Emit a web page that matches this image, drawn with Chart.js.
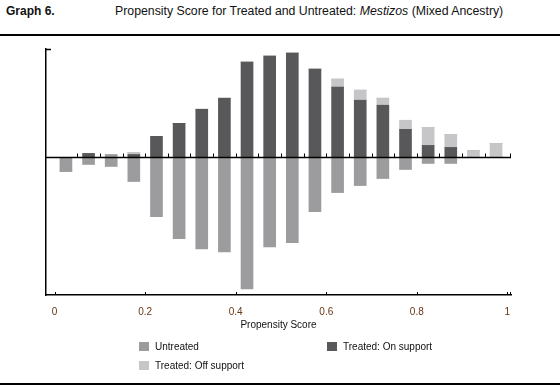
<!DOCTYPE html>
<html>
<head>
<meta charset="utf-8">
<script src="https://cdn.jsdelivr.net/npm/chart.js@4"></script>
<style>
  body { margin: 0; background: #fff; }
  #wrap { position: relative; width: 560px; height: 387px; font-family: "Liberation Sans", Arial, sans-serif; }
  #chartBox { position: absolute; left: 0; top: 0; width: 560px; height: 387px; }
  .hdr { position: absolute; top: 4px; font-size: 12px; color: #111; white-space: nowrap; }
  .rule { position: absolute; left: 0; width: 560px; height: 1.5px; background: #000; }
  .leg { position: absolute; font-size: 10px; color: #111; white-space: nowrap; }
  .leg i { position: absolute; left: 0; top: 1px; width: 10px; height: 9px; }
  .leg span { margin-left: 16px; }
</style>
</head>
<body>
<div id="wrap">
  <div class="hdr" style="left:6px; font-weight:bold;">Graph 6.</div>
  <div class="hdr" style="left:115px; font-size:12.3px;">Propensity Score for Treated and Untreated: <em>Mestizos</em> (Mixed Ancestry)</div>
  <div class="rule" style="top:34px;"></div>
  <div id="chartBox"><canvas id="chart"></canvas></div>
  <div class="leg" style="left:139px; top:341px;"><i style="background:#9c9c9e"></i><span>Untreated</span></div>
  <div class="leg" style="left:327px; top:341px;"><i style="background:#58585a"></i><span>Treated: On support</span></div>
  <div class="leg" style="left:139px; top:360px;"><i style="background:#c6c6c8"></i><span>Treated: Off support</span></div>
  <div class="rule" style="top:383px;"></div>
</div>
<script>
// bin centres (width 0.05)
const bins = [0.025, 0.075, 0.125, 0.175, 0.225, 0.275, 0.325, 0.375, 0.425, 0.475,
              0.525, 0.575, 0.625, 0.675, 0.725, 0.775, 0.825, 0.875, 0.925, 0.975];
const onSupport  = [0, 4, 0, 3, 21, 34, 48, 59, 95, 101, 104, 88, 70, 57, 52, 28, 12, 10, 0, 0];
const offSupport = [0, 0, 0, 2, 0, 0, 0, 0, 0, 0, 0, 0, 8, 10, 7, 9, 18, 13, 7, 14];
const untreated  = [-14, -7, -9, -24, -59, -81, -91, -94, -131, -89, -85, -54, -35, -28, -21, -12, -6, -6, 0, 0];
// small untreated-coloured piece above zero in the 0.10-0.15 bin
const untreatedUp = [0, 0, 3, 0, 0, 0, 0, 0, 0, 0, 0, 0, 0, 0, 0, 0, 0, 0, 0, 0];
const xTicks = [0, 0.2, 0.4, 0.6, 0.8, 1];

const toPts = (arr) => arr.map((v, i) => ({ x: bins[i], y: v }));

// zero line, its small ticks and the inward axis ticks
const axisMarks = {
  id: 'axisMarks',
  afterDatasetsDraw(chart) {
    const { ctx, chartArea, scales } = chart;
    const x = scales.x, y = scales.y;
    const y0 = Math.round(y.getPixelForValue(0)) + 0.5;
    ctx.save();
    ctx.strokeStyle = '#000';
    ctx.lineWidth = 1.5;
    ctx.beginPath();
    ctx.moveTo(chartArea.left, y0);
    ctx.lineTo(chartArea.right, y0);
    ctx.stroke();
    ctx.lineWidth = 1;
    ctx.beginPath();
    for (let k = 1; k < 20; k++) {
      const px = Math.round(x.getPixelForValue(k * 0.05)) + 0.5;
      ctx.moveTo(px, y0);
      ctx.lineTo(px, y0 - 4);
    }
    ctx.moveTo(chartArea.right - 0.5, y0);
    ctx.lineTo(chartArea.right - 0.5, y0 - 4);
    // bottom axis ticks
    xTicks.forEach((t) => {
      const px = Math.round(x.getPixelForValue(t)) + 0.5;
      ctx.moveTo(px, chartArea.bottom);
      ctx.lineTo(px, chartArea.bottom - 3);
    });
    ctx.moveTo(chartArea.right - 0.5, chartArea.bottom);
    ctx.lineTo(chartArea.right - 0.5, chartArea.bottom - 3);
    ctx.stroke();
    // top tick of y axis
    ctx.lineWidth = 1.5;
    ctx.beginPath();
    ctx.moveTo(chartArea.left, chartArea.top + 0.5);
    ctx.lineTo(chartArea.left + 5, chartArea.top + 0.5);
    ctx.stroke();
    ctx.restore();
  }
};

new Chart(document.getElementById('chart'), {
  type: 'bar',
  data: {
    datasets: [
      { label: 'Treated: On support', data: toPts(onSupport), backgroundColor: '#58585a' },
      { label: 'Treated: Off support', data: toPts(offSupport), backgroundColor: '#c6c6c8' },
      { label: 'Untreated', data: toPts(untreated), backgroundColor: '#9c9c9e' },
      { label: 'Untreated', data: toPts(untreatedUp), backgroundColor: '#9c9c9e' }
    ]
  },
  options: {
    responsive: true,
    maintainAspectRatio: false,
    animation: false,
    layout: { padding: { left: 46, right: 49, top: 49, bottom: 56 } },
    datasets: { bar: { barThickness: 12, borderWidth: 0 } },
    plugins: { legend: { display: false }, tooltip: { enabled: false } },
    scales: {
      x: {
        type: 'linear',
        stacked: true,
        offset: false,
        min: -0.019,
        max: 1.008,
        afterBuildTicks: (axis) => { axis.ticks = xTicks.map((v) => ({ value: v })); },
        grid: { display: false, drawTicks: false },
        border: { display: true, color: '#000', width: 1.5 },
        ticks: {
          padding: 11,
          color: '#6a3412',
          font: { family: '"Liberation Sans", Arial, sans-serif', size: 10 },
          maxRotation: 0,
          autoSkip: false,
          callback: (v) => String(v)
        },
        title: {
          display: true,
          text: 'Propensity Score',
          color: '#111',
          padding: { top: -10, bottom: 0 },
          font: { family: '"Liberation Sans", Arial, sans-serif', size: 10 }
        }
      },
      y: {
        stacked: true,
        min: -137,
        max: 108,
        grid: { display: false, drawTicks: false },
        border: { display: true, color: '#000', width: 1.5 },
        ticks: { display: false }
      }
    }
  },
  plugins: [axisMarks]
});
</script>
</body>
</html>
